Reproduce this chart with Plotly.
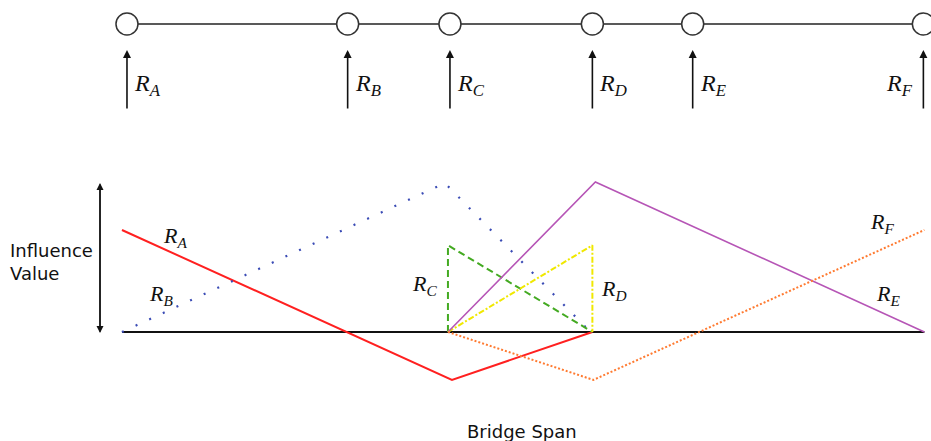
import plotly.graph_objects as go

# support positions along the bridge (span units, 0..80)
support_names = ["A", "B", "C", "D", "E", "F"]
support_x = [0.5, 22.5, 32.7, 46.9, 56.9, 79.9]

# bridge deck
span = [0, 80]

# influence lines (x, value)
ra_x = [0, 32.9, 46.9]
ra_y = [1.0, -0.47, 0]
rb_x = [0, 32.2, 46.7]
rb_y = [0, 1.46, 0]
rc_x = [32.5, 32.5, 46.9]
rc_y = [0, 0.85, 0]
rd_x = [32.5, 46.9, 46.9]
rd_y = [0, 0.85, 0]
re_x = [32.5, 47.2, 80]
re_y = [0, 1.47, 0]
rf_x = [32.5, 47.0, 80]
rf_y = [0, -0.47, 1.0]

# label positions for the influence curves
curve_labels = ["A", "B", "C", "D", "E", "F"]
curve_label_x = [5.3, 3.9, 30.2, 49.1, 76.4, 75.8]
curve_label_y = [0.93, 0.36, 0.46, 0.41, 0.36, 1.07]

BEAM_Y = 3.02
ARROW_HEAD_Y = 2.765
ARROW_TAIL_Y = 2.176
LABEL_Y = 2.42

fig = go.Figure()

# top beam with supports
fig.add_trace(go.Scatter(x=[support_x[0], support_x[-1]], y=[BEAM_Y, BEAM_Y], mode="lines",
                         line=dict(color="#222", width=1.6), hoverinfo="skip"))
fig.add_trace(go.Scatter(x=support_x, y=[BEAM_Y] * len(support_x), mode="markers",
                         marker=dict(size=22, color="white", line=dict(color="#333", width=1.5)),
                         hoverinfo="skip"))

# baseline of influence diagram
fig.add_trace(go.Scatter(x=span, y=[0, 0], mode="lines", line=dict(color="#111", width=2),
                         hoverinfo="skip"))

curves = [
    (ra_x, ra_y, dict(color="#ff2020", width=2)),
    (rb_x, rb_y, dict(color="#3a4bb5", width=2.2, dash="2px,13px")),
    (rc_x, rc_y, dict(color="#44aa22", width=2, dash="7px,4px")),
    (rd_x, rd_y, dict(color="#f0e800", width=2, dash="6px,2px,2px,2px")),
    (re_x, re_y, dict(color="#b655b6", width=1.6)),
    (rf_x, rf_y, dict(color="#ff7a30", width=2, dash="2px,2px")),
]
for xs, ys, ln in curves:
    fig.add_trace(go.Scatter(x=xs, y=ys, mode="lines", line=ln, hoverinfo="skip"))

annotations = []
# reaction arrows + labels
for i, (name, sx) in enumerate(zip(support_names, support_x)):
    annotations.append(dict(x=sx, y=ARROW_HEAD_Y, ax=sx, ay=ARROW_TAIL_Y, xref="x", yref="y",
                            axref="x", ayref="y", showarrow=True, arrowhead=2, arrowsize=1,
                            arrowwidth=1.6, arrowcolor="#111", text=""))
    last = i == len(support_x) - 1
    annotations.append(dict(x=sx + (-0.8 if last else 0.5), y=LABEL_Y, xref="x", yref="y",
                            xanchor="right" if last else "left", showarrow=False,
                            text="<i>R<sub>%s</sub></i>" % name,
                            font=dict(family="Liberation Serif", size=24, color="#111")))

for name, lx, ly in zip(curve_labels, curve_label_x, curve_label_y):
    annotations.append(dict(x=lx, y=ly, xref="x", yref="y", showarrow=False,
                            text="<i>R<sub>%s</sub></i>" % name,
                            font=dict(family="Liberation Serif", size=22, color="#111")))

# double arrow for influence value
for head, tail in [(1.46, -0.01), (-0.01, 1.46)]:
    annotations.append(dict(x=-2.19, y=head, ax=-2.19, ay=tail, xref="x", yref="y",
                            axref="x", ayref="y", showarrow=True, arrowhead=2, arrowsize=1,
                            arrowwidth=1.4, arrowcolor="#111", text=""))

annotations.append(dict(x=-11.4, y=0.69, xref="x", yref="y", xanchor="left", align="left",
                        showarrow=False, text="Influence<br>Value",
                        font=dict(family="DejaVu Sans", size=18, color="#111")))
annotations.append(dict(x=39.9, y=-0.98, xref="x", yref="y", showarrow=False, text="Bridge Span",
                        font=dict(family="DejaVu Sans", size=18, color="#111")))

fig.update_layout(
    width=931, height=441,
    margin=dict(l=0, r=0, t=0, b=0),
    plot_bgcolor="white", paper_bgcolor="white",
    showlegend=False,
    annotations=annotations,
    xaxis=dict(range=[-12.16, 80.66], visible=False, fixedrange=True),
    yaxis=dict(range=[-1.069, 3.255], visible=False, fixedrange=True),
)

# drop the browser's default body margin so the figure sits at the window origin
fig.write_html("out.html", config={"displayModeBar": False},
               post_script="document.body.style.margin='0';")
